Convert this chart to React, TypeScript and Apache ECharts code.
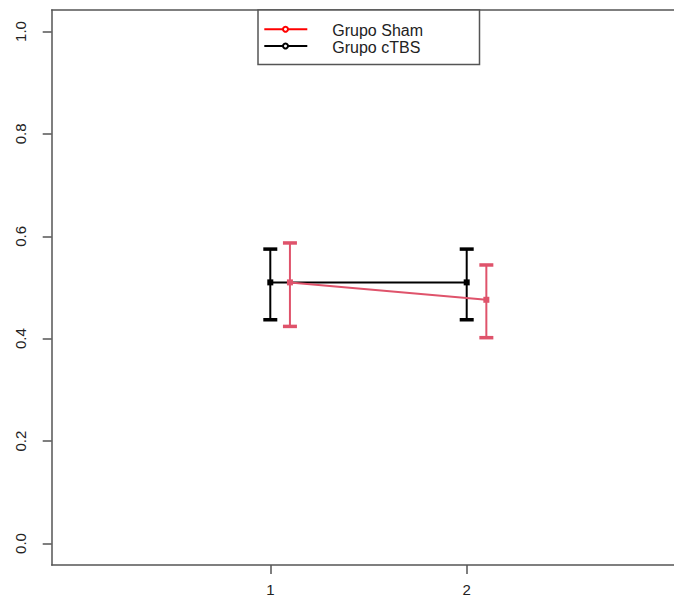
import React, { useEffect, useRef } from "react";
import * as echarts from "echarts";

// ---- data ----
const categories = [1, 2];
const xTickLabels = ["1", "2"];
const yTicks = [0, 0.2, 0.4, 0.6, 0.8, 1.0];

const shamName = "Grupo Sham";
const shamMean = [0.51, 0.476];
const shamLow = [0.424, 0.402];
const shamHigh = [0.587, 0.544];

const ctbsName = "Grupo cTBS";
const ctbsMean = [0.51, 0.51];
const ctbsLow = [0.437, 0.437];
const ctbsHigh = [0.575, 0.575];

const shamOffset = 0.1;
const ctbsOffset = 0;

const SHAM_COLOR = "#DF536B";
const CTBS_COLOR = "#000000";
const AXIS_COLOR = "#555555";
const TEXT_COLOR = "#222222";
const FONT = "'Liberation Sans', Arial, sans-serif";

function errorBarSeries(name: string, offset: number, low: number[], high: number[], color: string) {
  const data = categories.map((c, i) => [c + offset, low[i], high[i]]);
  return {
    type: "custom",
    name,
    data,
    encode: { x: 0, y: [1, 2] },
    z: 3,
    clip: false,
    renderItem: (params: any, api: any) => {
      const x = api.value(0);
      const lo = api.coord([x, api.value(1)]);
      const hi = api.coord([x, api.value(2)]);
      const hw = 7;
      return {
        type: "group",
        children: [
          { type: "line", shape: { x1: lo[0], y1: lo[1], x2: hi[0], y2: hi[1] }, style: { stroke: color, lineWidth: 2 } },
          { type: "line", shape: { x1: hi[0] - hw, y1: hi[1], x2: hi[0] + hw, y2: hi[1] }, style: { stroke: color, lineWidth: 3.5 } },
          { type: "line", shape: { x1: lo[0] - hw, y1: lo[1], x2: lo[0] + hw, y2: lo[1] }, style: { stroke: color, lineWidth: 3.5 } },
        ],
      };
    },
  };
}

function meanSeries(name: string, offset: number, mean: number[], color: string) {
  return {
    type: "line",
    name,
    data: categories.map((c, i) => [c + offset, mean[i]]),
    symbol: "rect",
    symbolSize: 6,
    showSymbol: true,
    z: 4,
    clip: false,
    itemStyle: { color },
    lineStyle: { color, width: 2 },
  };
}

export default function App() {
  const ref = useRef<HTMLDivElement>(null);
  useEffect(() => {
    if (!ref.current) return;
    const chart = echarts.init(ref.current, undefined, { renderer: "svg" });
    const legendX = 258;
    const legendY = 10;
    const xMin = -0.113;
    const xMax = 3.113;
    const option: any = {
      animation: false,
      backgroundColor: "#ffffff",
      grid: {
        left: 51.7,
        top: 10,
        bottom: 41,
        right: 34.7,
        show: false,
        containLabel: false,
      },
      xAxis: [
        {
          type: "value",
          position: "bottom",
          min: xMin,
          max: xMax,
          splitLine: { show: false },
          axisLine: { show: true, onZero: false, lineStyle: { color: AXIS_COLOR, width: 1.5 } },
          axisTick: { show: true, length: 9, customValues: categories, lineStyle: { color: AXIS_COLOR, width: 1.5 } },
          axisLabel: {
            show: true,
            customValues: categories,
            formatter: (v: number) => xTickLabels[categories.indexOf(v)] ?? "",
            margin: 17,
            fontSize: 15,
            fontFamily: FONT,
            color: TEXT_COLOR,
          },
        },
        {
          type: "value",
          position: "top",
          min: xMin,
          max: xMax,
          splitLine: { show: false },
          axisLine: { show: true, onZero: false, lineStyle: { color: AXIS_COLOR, width: 1.5 } },
          axisTick: { show: false },
          axisLabel: { show: false },
        },
      ],
      yAxis: {
        type: "value",
        min: -0.042,
        max: 1.042,
        splitLine: { show: false },
        axisLine: { show: true, onZero: false, lineStyle: { color: AXIS_COLOR, width: 1.5 } },
        axisTick: { show: true, length: 9, customValues: yTicks, lineStyle: { color: AXIS_COLOR, width: 1.5 } },
        axisLabel: {
          show: true,
          customValues: yTicks,
          formatter: (v: number) => v.toFixed(1),
          rotate: 90,
          margin: 24,
          fontSize: 15,
          fontFamily: FONT,
          color: TEXT_COLOR,
        },
      },
      graphic: [
        {
          type: "rect",
          shape: { x: legendX, y: legendY, width: 221.5, height: 54.5 },
          style: { fill: "#ffffff", stroke: AXIS_COLOR, lineWidth: 1.5 },
          z: 10,
        },
        { type: "line", shape: { x1: 264.3, y1: 29.3, x2: 307.3, y2: 29.3 }, style: { stroke: "#ff0000", lineWidth: 2 }, z: 11 },
        { type: "circle", shape: { cx: 285.5, cy: 29.3, r: 2.5 }, style: { fill: "#ffffff", stroke: "#ff0000", lineWidth: 2 }, z: 12 },
        { type: "line", shape: { x1: 264.3, y1: 46, x2: 307.3, y2: 46 }, style: { stroke: "#000000", lineWidth: 2 }, z: 11 },
        { type: "circle", shape: { cx: 285.5, cy: 46, r: 2.5 }, style: { fill: "#ffffff", stroke: "#000000", lineWidth: 2 }, z: 12 },
        {
          type: "text",
          x: 332.3,
          y: 30.5,
          style: { text: shamName, fontSize: 16, fontFamily: FONT, fill: TEXT_COLOR, verticalAlign: "middle", align: "left" },
          z: 12,
        },
        {
          type: "text",
          x: 332.3,
          y: 47,
          style: { text: ctbsName, fontSize: 16, fontFamily: FONT, fill: TEXT_COLOR, verticalAlign: "middle", align: "left" },
          z: 12,
        },
      ],
      series: [
        meanSeries(ctbsName, ctbsOffset, ctbsMean, CTBS_COLOR),
        errorBarSeries(ctbsName + " EB", ctbsOffset, ctbsLow, ctbsHigh, CTBS_COLOR),
        meanSeries(shamName, shamOffset, shamMean, SHAM_COLOR),
        errorBarSeries(shamName + " EB", shamOffset, shamLow, shamHigh, SHAM_COLOR),
      ],
    };
    chart.setOption(option);
    return () => chart.dispose();
  }, []);
  return (
    <div style={{ position: "absolute", left: 0, top: 0, width: 674, height: 606, overflow: "hidden" }}>
      <div ref={ref} style={{ width: 720, height: 606 }} />
    </div>
  );
}
